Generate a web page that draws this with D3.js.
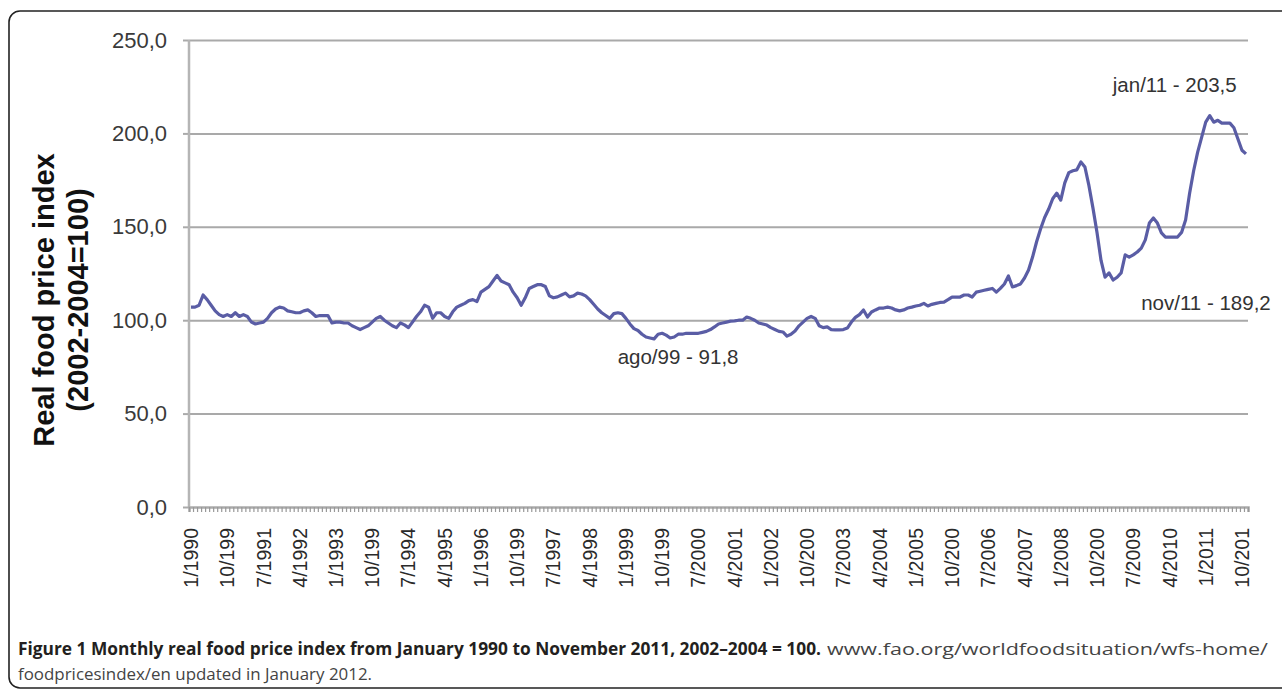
<!DOCTYPE html>
<html>
<head>
<meta charset="utf-8">
<script src="https://cdn.jsdelivr.net/npm/d3@7"></script>
<style>
  body { margin: 0; background: #fff; }
  svg { display: block; font-family: "Liberation Sans", Arial, sans-serif; }
</style>
</head>
<body>
<svg id="chart" width="1282" height="690"></svg>
<script>
// monthly real food price index, jan 1990 .. nov 2011
const startYear = 1990
const values = [
  107, 107, 108, 113.5, 111, 108, 105, 103, 102, 103, 102, 104,        // 1990
  102, 103, 102, 99, 98, 98.5, 99, 101, 104, 106, 107, 106.5,          // 1991
  105, 104.5, 104, 104, 105, 105.5, 104, 102, 102.5, 102.5, 102.5, 98.5, // 1992
  99, 99, 98.5, 98.5, 97, 96, 95, 96, 97, 99, 101, 102,                // 1993
  100, 98.5, 97, 96, 98.5, 97.5, 96, 99, 102, 104.5, 108, 107,         // 1994
  101, 104, 104, 102, 101, 104.5, 107, 108, 109, 110.5, 111, 110,      // 1995
  115, 116.5, 118, 121, 124, 121, 120, 119, 115, 112, 108, 112,        // 1996
  117, 118, 119, 119, 118, 113, 112, 112.5, 113.5, 114.5, 112.5, 113,  // 1997
  114.5, 114, 113, 111, 108.5, 106, 104, 102.5, 101, 103.5, 104, 103.5, // 1998
  101, 98, 95.5, 94.5, 92.5, 91, 90.5, 90, 92.5, 93, 92, 90.5,         // 1999
  91, 92.5, 92.5, 93, 93, 93, 93, 93.5, 94, 95, 96.4, 98,              // 2000
  98.5, 99, 99.5, 99.6, 100, 100, 101.7, 101, 100, 98.5, 98, 97.4,     // 2001
  96, 95, 94, 93.7, 91.5, 92.5, 94.2, 97, 99, 101, 102, 101,           // 2002
  97, 96, 96.4, 95, 94.8, 94.8, 95, 95.8, 99, 101.5, 103, 105.5,       // 2003
  101.7, 104.4, 105.5, 106.5, 106.5, 107, 106.5, 105.5, 105, 105.5, 106.5, 107, // 2004
  107.6, 108, 109, 107.6, 108.5, 109, 109.5, 109.7, 111, 112.4, 112.4, 112.4,   // 2005
  113.5, 113.5, 112.4, 115, 115.5, 116, 116.5, 117, 115, 117, 119.4, 123.7,     // 2006
  117.8, 118.5, 119.4, 122.6, 126.9, 133.8, 142, 149, 155, 159.5, 165, 168,     // 2007
  164.3, 173.5, 179, 180, 180.5, 184.7, 182, 172, 160, 147, 132, 123,           // 2008
  125.3, 121.5, 123, 125.3, 135, 133.8, 135, 136.5, 138.6, 143, 152, 154.7,     // 2009
  152, 146.7, 144.5, 144.5, 144.5, 144.5, 147, 153.6, 168, 180, 190, 198,       // 2010
  206, 209.5, 206, 207, 205.5, 205.5, 205.5, 203, 197, 191, 189                 // 2011
]
// category labels as printed (every 9th month, long ones cut off)
const tickLabels = ["1/1990", "10/199", "7/1991", "4/1992", "1/1993", "10/199", "7/1994", "4/1995",
  "1/1996", "10/199", "7/1997", "4/1998", "1/1999", "10/199", "7/2000", "4/2001", "1/2002", "10/200",
  "7/2003", "4/2004", "1/2005", "10/200", "7/2006", "4/2007", "1/2008", "10/200", "7/2009", "4/2010",
  "1/2011", "10/201"]
const labelStep = 9
const yTicks = [0, 50, 100, 150, 200, 250]
const noteText = ["jan/11 - 203,5", "nov/11 - 189,2", "ago/99 - 91,8"]
const noteMonth = [253, 262, 115]

let dims = { left: 189, right: 1248, top: 40, bottom: 507 }
let svg = d3.select("#chart")

// frame around the figure
svg.append("rect")
  .attr("x", 9).attr("y", 11)
  .attr("width", 1300).attr("height", 677)
  .attr("rx", 11)
  .attr("fill", "none").attr("stroke", "#222").attr("stroke-width", 1.6)

let x = d3.scaleLinear().domain([0, values.length]).range([dims.left, dims.right])
let y = d3.scaleLinear().domain([0, 250]).range([dims.bottom, dims.top])

// gridlines + y axis labels
let gy = svg.append("g").attr("transform", `translate(${dims.left},0)`)
gy.call(d3.axisLeft(y).tickValues(yTicks).tickSize(6).tickPadding(16)
    .tickFormat(d => d3.format(".1f")(d).replace(".", ",")))
gy.select(".domain").remove()
gy.selectAll(".tick line").attr("stroke", "#aaa").attr("stroke-width", 2)
gy.selectAll(".tick").filter(d => d > 0).append("line")
  .attr("x1", 0).attr("x2", dims.right - dims.left)
  .attr("stroke", "#a9a9a9").attr("stroke-width", 2)
gy.selectAll("text").attr("font-size", 22).attr("fill", "#3a3a3a")

// y axis line
svg.append("line")
  .attr("x1", dims.left).attr("x2", dims.left)
  .attr("y1", dims.top).attr("y2", dims.bottom)
  .attr("stroke", "#b5b5b5").attr("stroke-width", 2.5)

// x axis with a tick at every month boundary
let gx = svg.append("g").attr("transform", `translate(0,${dims.bottom})`)
gx.call(d3.axisBottom(x).tickValues(d3.range(values.length + 1)).tickSize(5).tickFormat(""))
gx.select(".domain").attr("stroke", "#aaa").attr("stroke-width", 2.5)
gx.selectAll(".tick line").attr("stroke", "#999").attr("stroke-width", 1.2)

svg.append("g").selectAll("text").data(tickLabels).join("text")
  .attr("transform", (d, i) => `translate(${x(i * labelStep + 0.5)},${dims.bottom + 21}) rotate(-90)`)
  .attr("dy", "0.36em")
  .attr("text-anchor", "end")
  .attr("font-size", 19.5)
  .attr("fill", "#2a2a2a")
  .text(d => d)

// the series
let line = d3.line().x((d, i) => x(i + 0.5)).y(d => y(d))
svg.append("path").datum(values)
  .attr("d", line)
  .attr("fill", "none")
  .attr("stroke", "#5a5da5")
  .attr("stroke-width", 3.2)
  .attr("stroke-linejoin", "round")

// notes
let noteDx = [-35, -40, 24]
let noteY = [y(226), y(100) - 17, y(80.5)]
svg.append("g").selectAll("text").data(noteText).join("text")
  .attr("x", (d, i) => x(noteMonth[i] + 0.5) + noteDx[i])
  .attr("y", (d, i) => noteY[i])
  .attr("dy", "0.35em")
  .attr("text-anchor", "middle")
  .attr("font-size", 20.5)
  .attr("fill", "#333")
  .text(d => d)

// y title
let title = ["Real food price index", "(2002-2004=100)"]
svg.append("g").selectAll("text").data(title).join("text")
  .attr("transform", (d, i) => `translate(${[44, 78][i]},300) rotate(-90)`)
  .attr("dy", "0.35em")
  .attr("text-anchor", "middle")
  .attr("font-size", 29)
  .attr("font-weight", "bold")
  .attr("fill", "#111")
  .text(d => d)

// caption
let cap = svg.append("g").attr("font-family", "'Open Sans', sans-serif").attr("font-size", 17)
cap.append("text").attr("x", 18).attr("y", 655)
  .attr("font-weight", "bold").attr("fill", "#231f20")
  .attr("textLength", 803).attr("lengthAdjust", "spacingAndGlyphs")
  .text("Figure 1 Monthly real food price index from January 1990 to November 2011, 2002\u20132004 = 100.")
cap.append("text").attr("x", 827).attr("y", 655)
  .attr("fill", "#444")
  .attr("textLength", 441).attr("lengthAdjust", "spacingAndGlyphs")
  .text("www.fao.org/worldfoodsituation/wfs-home/")
cap.append("text").attr("x", 18).attr("y", 680)
  .attr("fill", "#444")
  .attr("textLength", 354).attr("lengthAdjust", "spacingAndGlyphs")
  .text("foodpricesindex/en updated in January 2012.")
</script>
</body>
</html>
